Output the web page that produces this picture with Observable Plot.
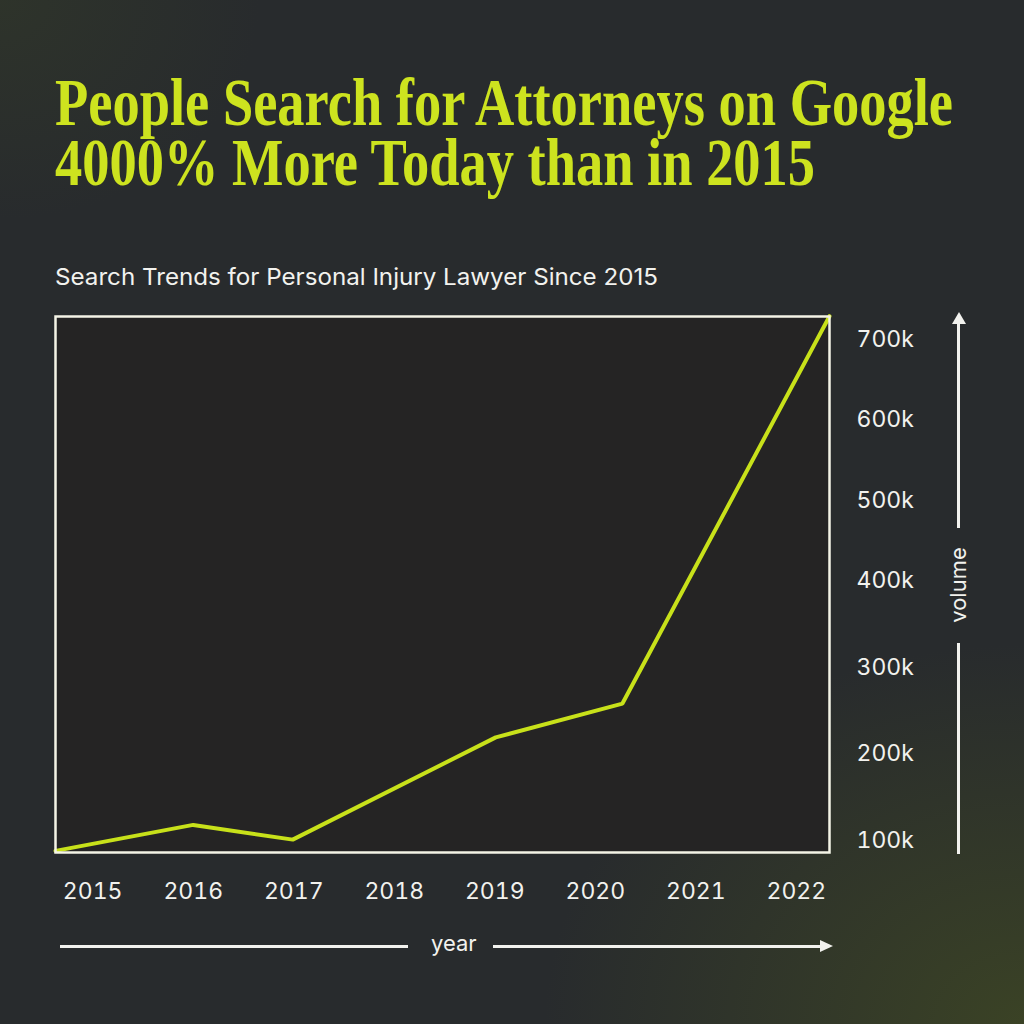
<!DOCTYPE html>
<html>
<head>
<meta charset="utf-8">
<script src="https://cdn.jsdelivr.net/npm/d3@7"></script>
<script src="https://cdn.jsdelivr.net/npm/@observablehq/plot@0.6"></script>
<style>
  body { margin: 0; }
  #page {
    position: relative; width: 1024px; height: 1024px; overflow: hidden;
    background:
      radial-gradient(ellipse 480px 380px at 1024px 1024px, rgba(66,76,34,0.7), rgba(66,76,34,0) 100%),
      radial-gradient(ellipse 260px 220px at 0px 0px, rgba(52,60,40,0.5), rgba(52,60,40,0) 100%),
      #282b2d;
    font-family: Inter, "Open Sans", sans-serif;
  }
  #title {
    position: absolute; left: 55px; top: 72px; color: #cde31f;
    font-family: "Liberation Serif", serif; font-weight: bold; font-size: 67px;
    white-space: nowrap; transform-origin: 0 0; line-height: 60px;
  }
  #sub { position: absolute; left: 55px; top: 263px; color: #f2f2ee; font-size: 23px; white-space: nowrap; transform-origin: 0 0; }
  #chart { position: absolute; left: 0; top: 290px; }
  .lbl { position: absolute; color: #f2f2ee; font-size: 22px; }
  .hl { position: absolute; background: #f2f2ee; }
</style>
</head>
<body>
<div id="page">
  <div id="title">People Search for Attorneys on Google<br>4000% More Today than in 2015</div>
  <div id="sub">Search Trends for Personal Injury Lawyer Since 2015</div>
  <div id="chart"></div>

  <!-- year arrow -->
  <div class="hl" style="left:60px; top:945px; width:348px; height:2.5px"></div>
  <div class="lbl" style="left:431px; top:930px">year</div>
  <div class="hl" style="left:493px; top:945px; width:332px; height:2.5px"></div>
  <svg style="position:absolute; left:820px; top:939px" width="14" height="14"><path d="M0,1 L13,7 L0,13 Z" fill="#f2f2ee"/></svg>

  <!-- volume arrow -->
  <svg style="position:absolute; left:951px; top:312px" width="16" height="14"><path d="M8,0 L15,12 L1,12 Z" fill="#f2f2ee"/></svg>
  <div class="hl" style="left:957px; top:322px; width:2.5px; height:206px"></div>
  <div class="lbl" style="left:958px; top:585px; transform: translate(-50%,-50%) rotate(-90deg); transform-origin: center">volume</div>
  <div class="hl" style="left:957px; top:643px; width:2.5px; height:211px"></div>
</div>
<script>
// year positions (line vertices sit between labels)
const years = [2014.63, 2016.0, 2016.99, 2019.01, 2020.27, 2022.33];
const volume = [88000, 118000, 101000, 219000, 258000, 729000];
const yearTicks = [2015, 2016, 2017, 2018, 2019, 2020, 2021, 2022];
const volumeTicks = [100000, 200000, 300000, 400000, 500000, 600000, 700000];

const data = years.map((y, i) => ({year: y, volume: volume[i]}));

const chart = Plot.plot({
  width: 1024,
  height: 660,
  marginTop: 26,
  marginBottom: 98,
  marginLeft: 55,
  marginRight: 195,
  style: {background: "transparent", fontFamily: "Inter, 'Open Sans', sans-serif", fontSize: "23px", color: "#f2f2ee"},
  x: {domain: [2014.63, 2022.33], label: null},
  // tick labels in the picture are not evenly spaced, so the scale is piecewise
  y: {type: "linear", domain: [100000, 400000, 700000], range: [550, 290, 49], label: null},
  marks: [
    Plot.frame({fill: "#252424", stroke: "none"}),
    Plot.axisX({ticks: yearTicks, tickFormat: d => String(d), tickSize: 0, tickPadding: 30, label: null,
                fill: "#f2f2ee", fontSize: 23}),
    Plot.axisY({anchor: "right", ticks: volumeTicks, tickFormat: d => d / 1000 + "k", tickSize: 0, tickPadding: 27,
                textAnchor: "start", label: null, fill: "#f2f2ee", fontSize: 23}),
    Plot.line(data, {x: "year", y: "volume", stroke: "#c8e11a", strokeWidth: 4, strokeLinejoin: "miter"}),
    Plot.frame({stroke: "#f4f4e6", strokeWidth: 2.5})
  ]
});
d3.select("#chart").append(() => chart);

// squeeze text blocks to the reference widths
function fit(id, w) {
  const el = document.getElementById(id);
  const r = el.getBoundingClientRect().width;
  el.style.transform = `scaleX(${w / r})`;
}
fit("title", 898);
fit("sub", 603);
</script>
</body>
</html>
